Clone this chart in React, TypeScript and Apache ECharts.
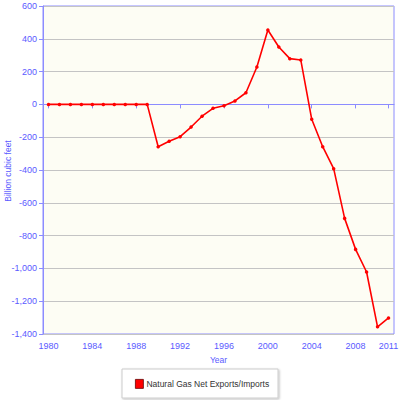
import React, { useEffect, useRef } from "react";
import * as echarts from "echarts";

const years = [
  "1980","1981","1982","1983","1984","1985","1986","1987","1988","1989",
  "1990","1991","1992","1993","1994","1995","1996","1997","1998","1999",
  "2000","2001","2002","2003","2004","2005","2006","2007","2008","2009",
  "2010","2011",
];
const netExportsImports = [
  0, 0, 0, 0, 0, 0, 0, 0, 0, 0,
  -258, -225, -197, -138, -72, -24, -8, 21, 71, 228,
  454, 350, 279, 271, -91, -258, -392, -695, -884, -1022,
  -1356, -1302,
];
const seriesName = "Natural Gas Net Exports/Imports";
const yAxisTitle = "Billion cubic feet";
const xLabelYears = ["1980","1984","1988","1992","1996","2000","2004","2008","2011"];

const blue = "#8c8cff";
const gridGray = "#c4c4c4";
const labelBlue = "#5a5aff";
const font = "Arial, 'Liberation Sans', sans-serif";

export default function App() {
  const ref = useRef<HTMLDivElement>(null);
  useEffect(() => {
    if (!ref.current) return;
    const chart = echarts.init(ref.current, undefined, { renderer: "svg" });
    const showIdx = (i: number) => xLabelYears.indexOf(years[i]) >= 0;
    chart.setOption({
      animation: false,
      backgroundColor: "#ffffff",
      textStyle: { fontFamily: font },
      grid: {
        left: 43,
        right: 6,
        top: 6,
        bottom: 66,
        containLabel: false,
        outerBoundsMode: "none",
        show: true,
        backgroundColor: "#fdfdf4",
        borderColor: blue,
        borderWidth: 1,
      },
      graphic: [
        {
          type: "rect",
          shape: { x: 122, y: 369, width: 156, height: 29 },
          style: {
            fill: "#ffffff",
            stroke: "#cccccc",
            lineWidth: 1,
            shadowBlur: 2,
            shadowOffsetX: 1,
            shadowOffsetY: 1,
            shadowColor: "rgba(0,0,0,0.25)",
          },
          z: 0,
        },
        {
          type: "text",
          x: 8,
          y: 171,
          rotation: Math.PI / 2,
          style: {
            text: yAxisTitle,
            fill: labelBlue,
            font: `8.5px ${font}`,
            align: "center",
            verticalAlign: "middle",
          },
          z: 5,
        },
      ],
      legend: {
        left: 135,
        top: 379,
        padding: 0,
        icon: "rect",
        itemWidth: 8,
        itemHeight: 9,
        itemGap: 4,
        textStyle: { fontSize: 8.5, color: "#333333", padding: [0, 0, 0, -2] },
        data: [{ name: seriesName, itemStyle: { color: "#ff0000", borderColor: "#660000", borderWidth: 0.8 } }],
        z: 5,
      },
      xAxis: {
        type: "category",
        data: years,
        boundaryGap: true,
        name: "Year",
        nameLocation: "middle",
        nameGap: 21,
        nameTextStyle: { color: labelBlue, fontSize: 8.5 },
        axisLine: { lineStyle: { color: blue, width: 1 } },
        axisTick: { show: true, alignWithLabel: true, interval: showIdx, length: 4, lineStyle: { color: blue } },
        axisLabel: { interval: showIdx, color: labelBlue, fontSize: 9, margin: 7 },
        splitLine: { show: false },
      },
      yAxis: {
        type: "value",
        min: -1400,
        max: 600,
        interval: 200,
        axisLine: { show: true, lineStyle: { color: blue, width: 1 } },
        axisTick: { show: true, length: 4, lineStyle: { color: blue } },
        axisLabel: {
          color: labelBlue,
          fontSize: 9,
          margin: 6,
          formatter: (v: number) => {
            const s = Math.abs(v).toString().replace(/\B(?=(\d{3})+(?!\d))/g, ",");
            return (v < 0 ? "-" : "") + s;
          },
        },
        splitLine: {
          show: true,
          lineStyle: {
            color: [gridGray, gridGray, gridGray, gridGray, gridGray, gridGray, gridGray, blue, gridGray, gridGray, gridGray],
            width: 1,
          },
        },
      },
      series: [
        {
          name: seriesName,
          type: "line",
          data: netExportsImports,
          symbol: "circle",
          symbolSize: 3.5,
          showSymbol: true,
          itemStyle: { color: "#ff0000" },
          lineStyle: { color: "#ff0000", width: 1.6 },
          z: 3,
        },
      ],
    });
    return () => chart.dispose();
  }, []);
  return <div ref={ref} style={{ width: 400, height: 400, position: "absolute", left: 0, top: 0 }} />;
}
